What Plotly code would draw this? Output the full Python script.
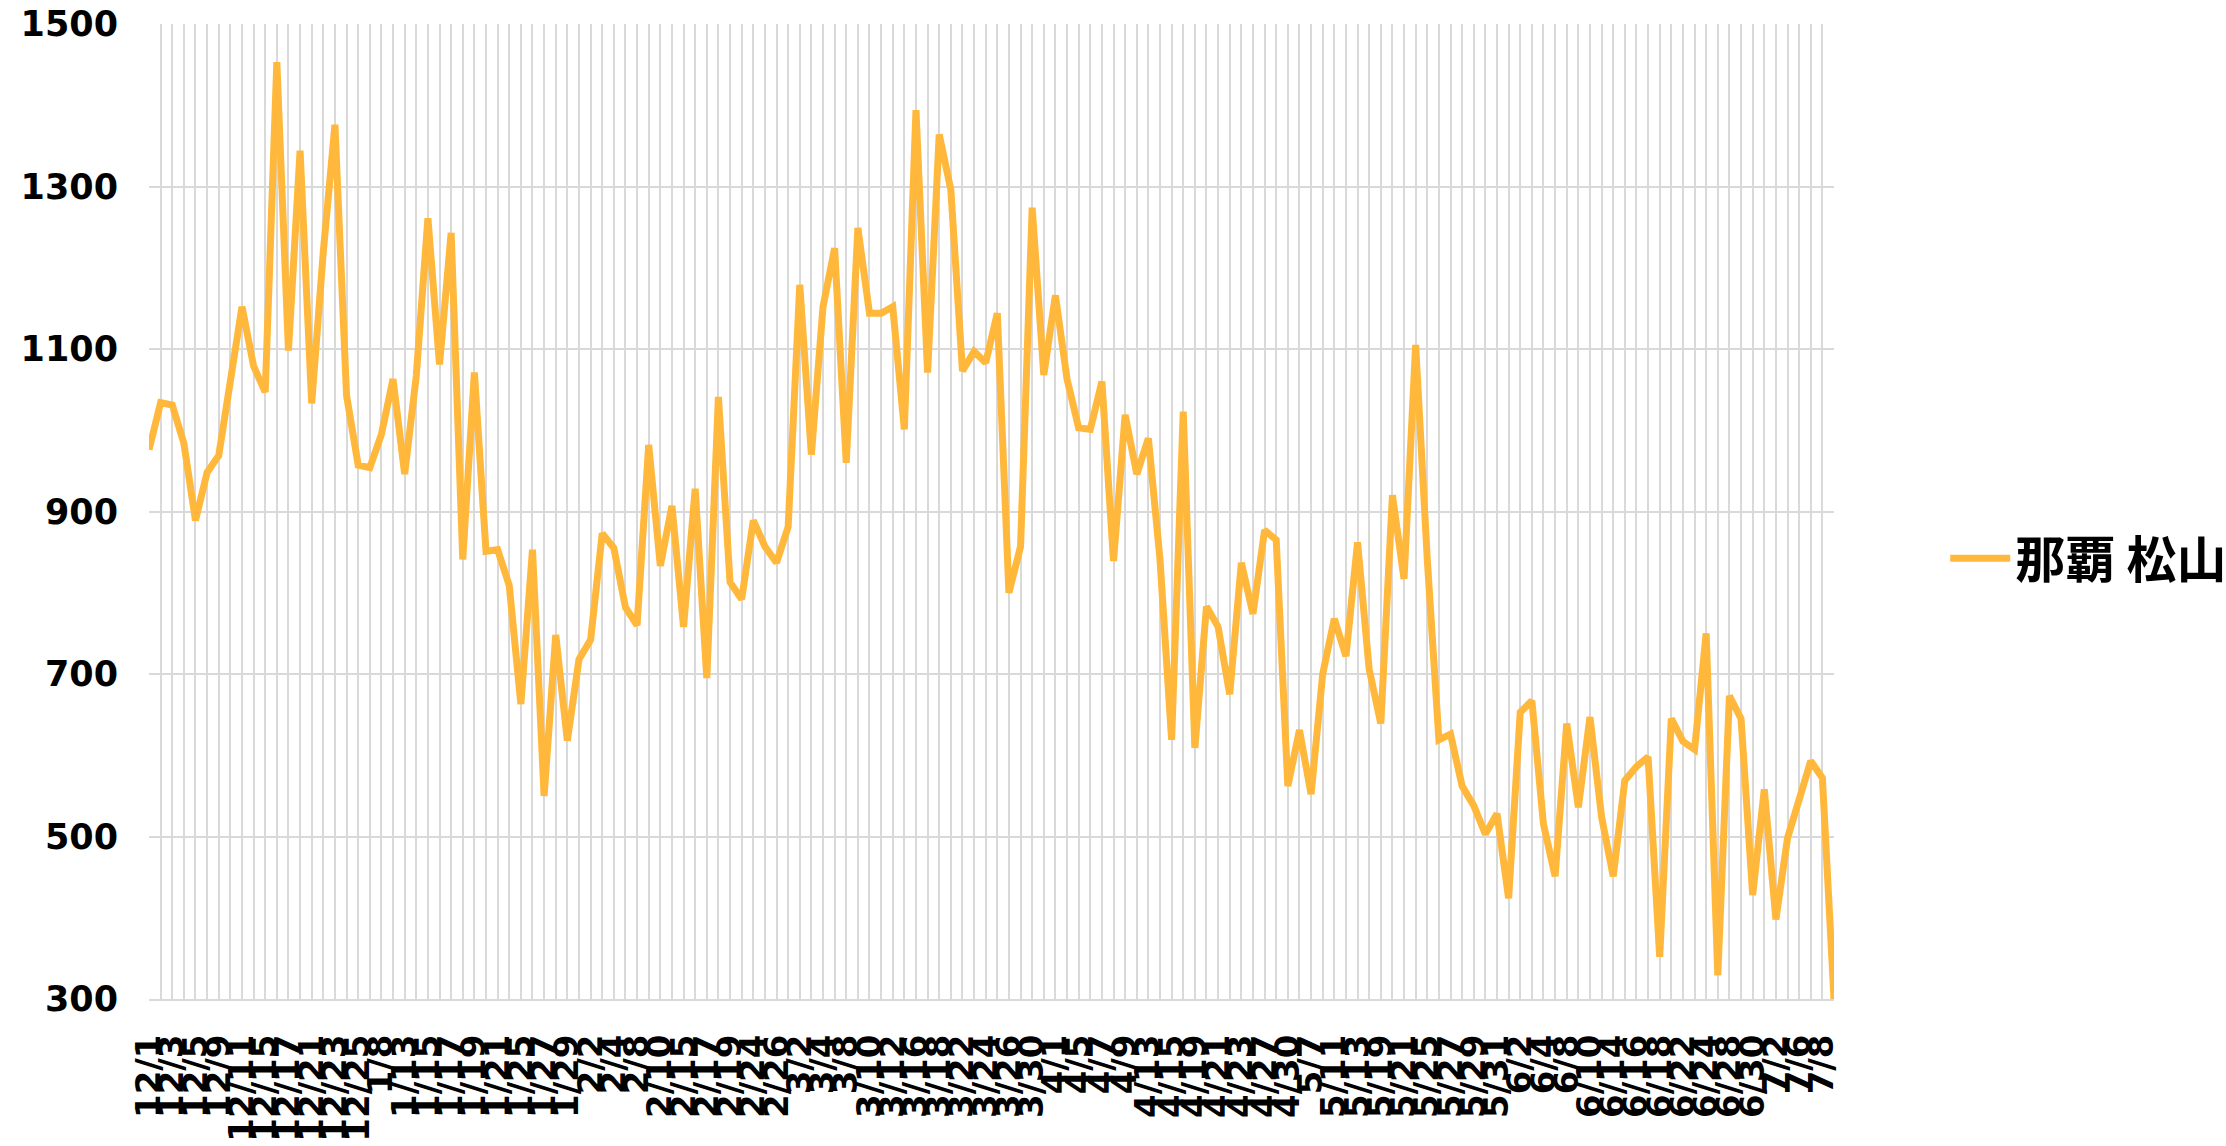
import plotly.graph_objects as go

dates = [
    "12/1", "12/2", "12/3", "12/4", "12/5", "12/7", "12/9", "12/10", "12/11", "12/13",
    "12/15", "12/16", "12/17", "12/19", "12/21", "12/22", "12/23", "12/24", "12/25", "12/27",
    "1/8", "1/10", "1/13", "1/14", "1/15", "1/16", "1/17", "1/18", "1/19", "1/20",
    "1/21", "1/23", "1/25", "1/26", "1/27", "1/28", "1/29", "1/31", "2/2", "2/3",
    "2/4", "2/6", "2/8", "2/9", "2/10", "2/12", "2/15", "2/16", "2/17", "2/18",
    "2/19", "2/21", "2/24", "2/25", "2/26", "2/28", "3/2", "3/3", "3/4", "3/6",
    "3/8", "3/9", "3/10", "3/11", "3/12", "3/14", "3/16", "3/17", "3/18", "3/20",
    "3/22", "3/23", "3/24", "3/25", "3/26", "3/28", "3/30", "3/31", "4/1", "4/3",
    "4/5", "4/6", "4/7", "4/8", "4/9", "4/11", "4/13", "4/14", "4/15", "4/17",
    "4/19", "4/20", "4/21", "4/22", "4/23", "4/25", "4/27", "4/28", "4/30", "5/3",
    "5/7", "5/9", "5/11", "5/12", "5/13", "5/16", "5/19", "5/20", "5/21", "5/23",
    "5/25", "5/26", "5/27", "5/28", "5/29", "5/30", "5/31", "6/1", "6/2", "6/3",
    "6/4", "6/6", "6/8", "6/9", "6/10", "6/12", "6/14", "6/15", "6/16", "6/17",
    "6/18", "6/20", "6/22", "6/23", "6/24", "6/26", "6/28", "6/29", "6/30", "7/1",
    "7/2", "7/4", "7/6", "7/7", "7/8", "7/9",
]

prices = [
    976, 1034, 1031, 984, 889, 948, 969, 1063, 1152, 1079,
    1047, 1453, 1098, 1344, 1033, 1220, 1376, 1043, 957, 954,
    995, 1063, 946, 1067, 1261, 1081, 1243, 841, 1071, 851,
    853, 809, 663, 853, 550, 748, 618, 718, 742, 873,
    855, 782, 760, 982, 833, 907, 758, 928, 695, 1041,
    813, 792, 889, 857, 837, 881, 1179, 970, 1152, 1224,
    960, 1249, 1144, 1144, 1152, 1001, 1394, 1071, 1364, 1296,
    1073, 1097, 1083, 1144, 800, 857, 1274, 1068, 1166, 1063,
    1003, 1001, 1060, 839, 1019, 946, 990, 841, 619, 1023,
    609, 783, 758, 675, 837, 774, 877, 865, 562, 631,
    552, 700, 768, 722, 862, 706, 639, 920, 817, 1105,
    841, 619, 626, 562, 538, 503, 528, 424, 653, 667,
    515, 451, 639, 536, 647, 524, 451, 569, 586, 598,
    352, 645, 617, 607, 750, 329, 673, 645, 428, 558,
    398, 498, 544, 593, 572, 300,
]

series_name = "那覇 松山"
y_ticks = [300, 500, 700, 900, 1100, 1300, 1500]

# every other category carries a label, every category carries a gridline
tick_text = [d if i % 2 == 0 else "" for i, d in enumerate(dates)]

LINE = "#FFB83B"
GRID = "#D9D9D9"

fig = go.Figure()
fig.add_trace(go.Scatter(
    x=dates, y=prices, mode="lines", name=series_name,
    line=dict(color=LINE, width=7),
    hoverinfo="skip",
))

fig.update_layout(
    width=2226, height=1146,
    margin=dict(l=149, r=392, t=24, b=147, autoexpand=False),
    paper_bgcolor="white", plot_bgcolor="white",
    showlegend=True,
    legend=dict(
        x=1.066, y=0.452, xanchor="left", yanchor="middle",
        font=dict(family="Noto Sans CJK JP", size=50, color="#000000", weight="bold"),
        itemwidth=60, bgcolor="rgba(0,0,0,0)",
    ),
    xaxis=dict(
        type="category", categoryorder="array", categoryarray=dates,
        range=[0, len(dates) - 1],
        tickmode="array", tickvals=dates, ticktext=tick_text,
        tickangle=-90,
        tickfont=dict(family="DejaVu Sans", size=34, color="#000000", weight="bold"),
        showgrid=True, gridcolor=GRID, gridwidth=2,
        showline=True, linecolor=GRID, linewidth=2,
        ticks="", ticklabelstandoff=20, automargin=False,
        ticklabeloverflow="allow",
        zeroline=False,
    ),
    yaxis=dict(
        range=[300, 1500], tickmode="array", tickvals=y_ticks,
        tickfont=dict(family="DejaVu Sans", size=35, color="#000000", weight="bold"),
        showgrid=True, gridcolor=GRID, gridwidth=2,
        showline=False, zeroline=False, ticks="",
        ticklabelstandoff=30, automargin=False,
        ticklabeloverflow="allow",
    ),
)

# drop the default 8px page margin so the figure fills the window exactly
fig.write_html(
    "out.html",
    config={"displayModeBar": False},
    post_script="document.body.style.margin='0px';document.body.style.overflow='hidden';",
)
